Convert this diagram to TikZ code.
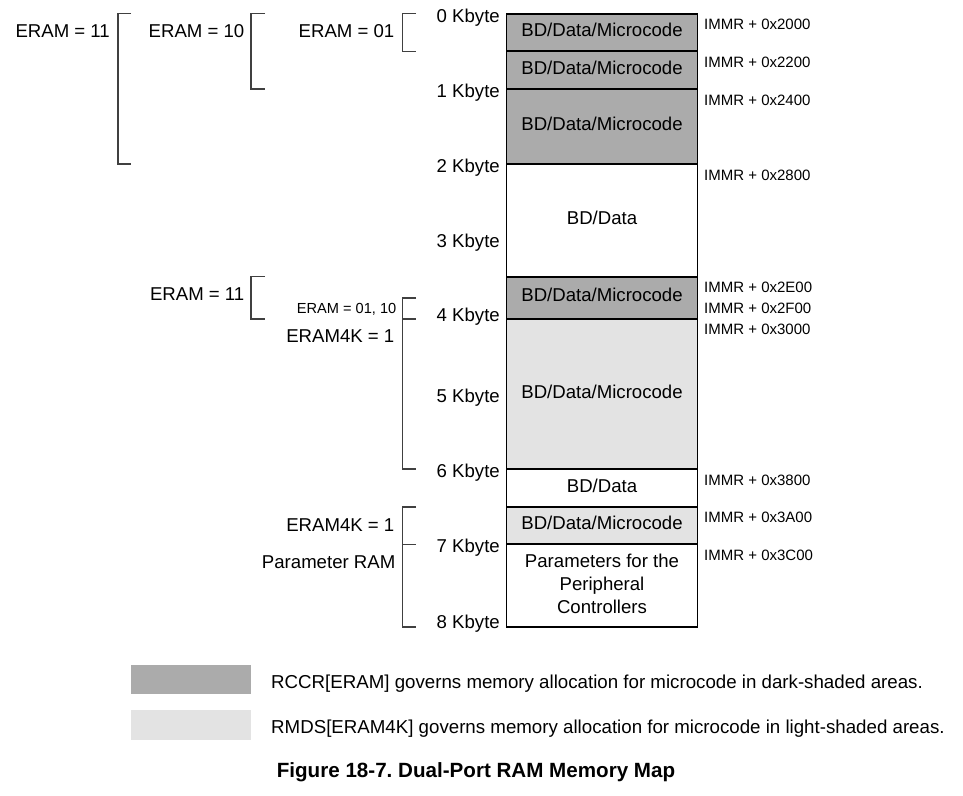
\documentclass[tikz,border=0pt]{standalone}
\usepackage{fontspec}
\setmainfont{Liberation Sans}
\frenchspacing
\begin{document}
\begin{tikzpicture}[x=1pt,y=-1pt,
  blk/.style={draw=black,line width=1.7pt,minimum width=191pt,inner sep=0pt,
    font=\fontsize{18.6}{23}\selectfont,align=center},
  one/.style={text height=13pt,text depth=5pt},
  darkfill/.style={fill=black!33},
  lightfill/.style={fill=black!11},
  kb/.style={anchor=base east,inner sep=0pt,font=\fontsize{18.6}{22}\selectfont},
  immr/.style={anchor=base west,inner sep=0pt,font=\fontsize{15}{18}\selectfont},
  lbl/.style={anchor=base east,inner sep=0pt,font=\fontsize{18.6}{22}\selectfont},
  slbl/.style={anchor=base east,inner sep=0pt,font=\fontsize{14.6}{18}\selectfont},
  brk/.style={draw=black!75,line width=1.1pt},
  leg/.style={anchor=base west,inner sep=0pt,font=\fontsize{18.7}{22}\selectfont}]
\useasboundingbox (0,0) rectangle (963,795);
% memory blocks
\node[blk,one,darkfill,minimum height=37.3pt] (m1) at (602,32.65) {BD/Data/Microcode};
\node[blk,one,darkfill,minimum height=37.7pt] (m2) at (602,70.15) {BD/Data/Microcode};
\node[blk,one,darkfill,minimum height=75pt] (m3) at (602,126.5) {BD/Data/Microcode};
\node[blk,one,fill=white,minimum height=112.7pt] (m4) at (602,220.35) {BD/Data};
\node[blk,one,darkfill,minimum height=42.3pt] (m5) at (602,297.85) {BD/Data/Microcode};
\node[blk,one,lightfill,minimum height=150.3pt] (m6) at (602,394.15) {BD/Data/Microcode};
\node[blk,one,fill=white,minimum height=37.4pt] (m7) at (602,488) {BD/Data};
\node[blk,one,lightfill,minimum height=37.6pt] (m8) at (602,525.5) {BD/Data/Microcode};
\node[blk,fill=white,minimum height=82.7pt] (m9) at (602,585.65) {};
\node[anchor=center,align=center,inner sep=0pt,font=\fontsize{18.6}{23}\selectfont] (m9t) at ([yshift=2pt]m9.center) {Parameters for the\\Peripheral\\Controllers};
% Kbyte labels
\node[kb] (k0) at (500,22.5) {0 Kbyte};
\node[kb] (k1) at (500,97.5) {1 Kbyte};
\node[kb] (k2) at (500,172.5) {2 Kbyte};
\node[kb] (k3) at (500,247.5) {3 Kbyte};
\node[kb] (k4) at (500,321.5) {4 Kbyte};
\node[kb] (k5) at (500,402.5) {5 Kbyte};
\node[kb] (k6) at (500,477.5) {6 Kbyte};
\node[kb] (k7) at (500,552.5) {7 Kbyte};
\node[kb] (k8) at (500,628.5) {8 Kbyte};
% IMMR labels
\node[immr] (a1) at (704,29.4) {IMMR + 0x2000};
\node[immr] (a2) at (704,67.4) {IMMR + 0x2200};
\node[immr] (a3) at (704,105.4) {IMMR + 0x2400};
\node[immr] (a4) at (704,180.4) {IMMR + 0x2800};
\node[immr] (a5) at (704,292.4) {IMMR + 0x2E00};
\node[immr] (a6) at (704,313.4) {IMMR + 0x2F00};
\node[immr] (a7) at (704,334.4) {IMMR + 0x3000};
\node[immr] (a8) at (704,485.4) {IMMR + 0x3800};
\node[immr] (a9) at (704,522.4) {IMMR + 0x3A00};
\node[immr] (a10) at (704,560.4) {IMMR + 0x3C00};
% left labels
\node[lbl] (e11) at (110,37.5) {ERAM = 11};
\node[lbl] (e10) at (244.5,37.5) {ERAM = 10};
\node[lbl] (e01) at (394.5,37.5) {ERAM = 01};
\node[lbl] (e11b) at (244.5,300.5) {ERAM = 11};
\node[slbl] (e0110) at (396.5,313) {ERAM = 01, 10};
\node[lbl] (k4a) at (394.5,342) {ERAM4K = 1};
\node[lbl] (k4b) at (394.5,531.5) {ERAM4K = 1};
\node[lbl] (pram) at (395.5,568) {Parameter RAM};
% brackets
\draw[brk] (131,13.7) -- (118,13.7) -- (118,164) -- (131,164);
\draw[brk] (265,13.7) -- (251,13.7) -- (251,89) -- (265,89);
\draw[brk] (416,13.7) -- (402.5,13.7) -- (402.5,51.3) -- (416,51.3);
\draw[brk] (265,276.7) -- (251,276.7) -- (251,319) -- (265,319);
\draw[brk] (416,298) -- (402.5,298) -- (402.5,469) -- (416,469);
\draw[brk] (402.5,319) -- (416,319);
\draw[brk] (416,507) -- (402.5,507) -- (402.5,627) -- (416,627);
\draw[brk] (402.5,544.3) -- (416,544.3);
% legend
\fill[black!33] (131,665) rectangle (251,694);
\fill[black!11] (131,710) rectangle (251,740);
\node[leg] (l1) at (271,688.5) {RCCR[ERAM] governs memory allocation for microcode in dark-shaded areas.};
\node[leg] (l2) at (271,733.5) {RMDS[ERAM4K] governs memory allocation for microcode in light-shaded areas.};
\node[anchor=base,inner sep=0pt,font=\bfseries\fontsize{20.6}{24}\selectfont] (cap) at (476,777) {Figure 18-7. Dual-Port RAM Memory Map};
\end{tikzpicture}
\end{document}
